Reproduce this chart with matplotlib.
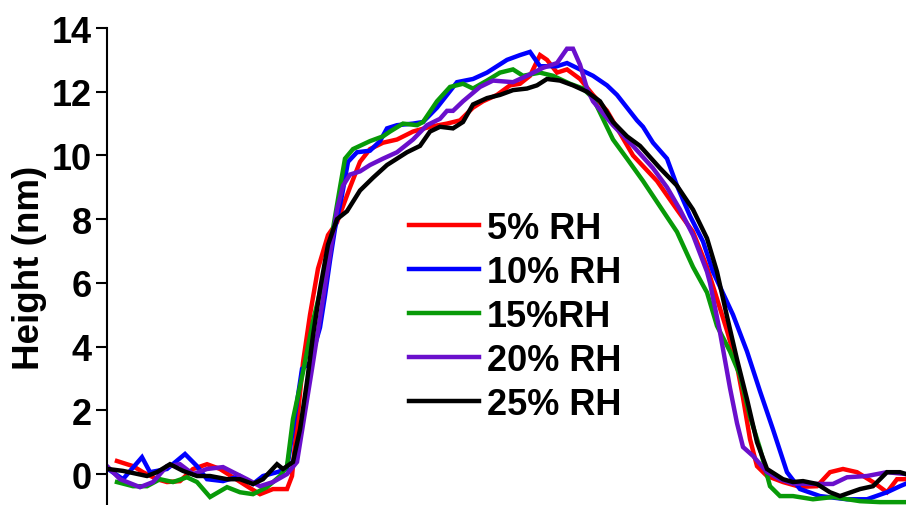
import matplotlib.pyplot as plt

plt.rcParams['font.family'] = ['Liberation Sans', 'DejaVu Sans']
plt.rcParams['font.weight'] = 'bold'

labels = ["5% RH", "10% RH", "15%RH", "20% RH", "25% RH"]
colors = ["#ff0000", "#0000ff", "#089a08", "#6a0fcc", "#000000"]

# lateral position (arbitrary units) and height (nm) for each humidity
x_5 = [10, 26, 36, 50, 60, 73, 86, 100, 113, 126, 140, 153, 166, 180, 185, 196, 203, 211, 221, 230, 243, 253,
       263, 276, 290, 306, 323, 340, 353, 366, 376, 390, 403, 413, 423, 433, 440, 450, 460, 473, 486, 500,
       526, 550, 570, 586, 600, 610, 620, 630, 636, 643, 650, 660, 676, 693, 710, 723, 736, 750, 766, 780,
       790, 799]
y_5 = [0.41, 0.25, 0.06, -0.16, -0.25, -0.22, 0.16, 0.31, 0.16, -0.1, -0.38, -0.63, -0.47, -0.47, -0.06,
       3.5, 5.0, 6.45, 7.5, 7.9, 9.0, 9.8, 10.2, 10.4, 10.5, 10.75, 10.9, 11.0, 11.1, 11.5, 11.7, 11.9,
       12.2, 12.25, 12.5, 13.15, 13.0, 12.6, 12.7, 12.4, 11.9, 11.4, 10.0, 9.2, 8.3, 7.6, 6.5, 5.5, 4.5,
       3.4, 2.4, 1.1, 0.25, -0.06, -0.25, -0.4, -0.38, 0.06, 0.16, 0.06, -0.25, -0.57, -0.16, -0.16]

x_10 = [1, 16, 35, 43, 60, 78, 90, 100, 116, 133, 146, 156, 170, 180, 195, 203, 213, 218, 223, 228, 235, 241,
        250, 263, 273, 280, 290, 306, 316, 330, 340, 350, 366, 380, 400, 413, 423, 433, 450, 460, 473, 486,
        500, 510, 520, 530, 536, 546, 560, 570, 583, 596, 606, 626, 640, 653, 666, 680, 693, 713, 740, 760,
        780, 793, 799]
y_10 = [0.16, -0.16, 0.53, 0.06, 0.16, 0.63, 0.25, -0.16, -0.22, -0.06, -0.31, -0.06, 0.06, 0.16, 3.3,
        3.5, 4.6, 5.6, 6.7, 7.7, 8.75, 9.8, 10.1, 10.15, 10.45, 10.85, 10.95, 11.0, 11.05, 11.5, 11.9,
        12.3, 12.4, 12.6, 13.0, 13.15, 13.25, 12.8, 12.8, 12.9, 12.7, 12.5, 12.2, 11.9, 11.5, 11.1, 10.9,
        10.4, 9.9, 9.05, 8.1, 7.3, 6.35, 5.0, 3.85, 2.6, 1.4, 0.06, -0.47, -0.69, -0.79, -0.79, -0.57,
        -0.38, -0.3]

x_15 = [10, 26, 40, 53, 66, 80, 90, 103, 120, 133, 146, 160, 173, 180, 186, 196, 206, 216, 226, 233, 238, 246,
        263, 276, 283, 296, 310, 316, 330, 343, 356, 366, 380, 393, 406, 416, 433, 446, 463, 476, 486, 496,
        506, 520, 536, 553, 570, 586, 600, 610, 623, 633, 643, 653, 663, 673, 686, 706, 726, 753, 773, 799]
y_15 = [-0.25, -0.38, -0.38, -0.16, -0.25, -0.1, -0.25, -0.72, -0.41, -0.57, -0.63, -0.41, -0.06, 0.25,
        1.73, 3.2, 4.8, 6.1, 7.7, 9.0, 9.9, 10.2, 10.45, 10.6, 10.75, 11.0, 10.95, 11.05, 11.7, 12.15,
        12.25, 12.1, 12.35, 12.6, 12.7, 12.5, 12.6, 12.5, 12.25, 12.1, 11.8, 11.15, 10.5, 9.9, 9.2, 8.4,
        7.6, 6.5, 5.7, 4.65, 3.85, 3.1, 1.8, 0.8, -0.38, -0.69, -0.69, -0.79, -0.72, -0.85, -0.88, -0.88]

x_20 = [1, 13, 33, 46, 60, 73, 86, 100, 116, 126, 140, 153, 166, 180, 190, 205, 220, 230, 236, 243, 253, 263,
        276, 290, 306, 320, 333, 340, 346, 356, 373, 386, 406, 420, 436, 450, 460, 466, 473, 480, 486, 506,
        526, 546, 560, 573, 586, 600, 603, 613, 623, 630, 636, 646, 660, 673, 686, 706, 726, 740, 760, 780,
        799]
y_20 = [0.22, -0.16, -0.41, -0.25, 0.25, 0.31, 0.0, 0.16, 0.22, 0.06, -0.16, -0.38, -0.25, 0.0, 0.38, 3.3,
        6.3, 8.3, 9.05, 9.4, 9.5, 9.7, 9.9, 10.1, 10.5, 10.95, 11.15, 11.4, 11.4, 11.7, 12.15, 12.35, 12.3,
        12.5, 12.75, 12.9, 13.35, 13.35, 12.85, 12.1, 11.7, 10.95, 10.3, 9.6, 9.0, 8.3, 7.5, 6.35, 6.0,
        4.45, 2.7, 1.6, 0.85, 0.57, 0.06, -0.16, -0.3, -0.31, -0.31, -0.1, -0.06, 0.06, 0.0]

x_25 = [1, 16, 40, 50, 63, 76, 90, 103, 120, 133, 146, 156, 170, 176, 186, 193, 200, 206, 213, 221, 230, 240,
        253, 266, 280, 300, 313, 323, 333, 346, 356, 366, 380, 393, 406, 420, 430, 440, 453, 466, 480, 493,
        506, 520, 533, 553, 570, 586, 600, 610, 620, 630, 640, 650, 660, 676, 686, 696, 710, 723, 733, 753,
        766, 780, 793, 799]
y_25 = [0.16, 0.1, -0.06, 0.06, 0.31, 0.1, -0.06, -0.06, -0.16, -0.16, -0.31, -0.16, 0.31, 0.16, 0.38,
        1.4, 2.9, 4.35, 5.8, 7.2, 8.0, 8.25, 8.9, 9.3, 9.7, 10.1, 10.3, 10.75, 10.9, 10.85, 11.05, 11.6,
        11.8, 11.9, 12.05, 12.1, 12.2, 12.4, 12.35, 12.2, 12.0, 11.7, 11.05, 10.6, 10.3, 9.6, 9.05, 8.3,
        7.4, 6.35, 4.95, 3.6, 2.35, 1.0, 0.16, -0.16, -0.25, -0.22, -0.31, -0.57, -0.69, -0.47, -0.38,
        0.06, 0.06, 0.0]

xs = [x_5, x_10, x_15, x_20, x_25]
ys = [y_5, y_10, y_15, y_20, y_25]

fig = plt.figure(figsize=(9.06, 5.06), dpi=100)
ax = fig.add_axes([107 / 906, 0, 1 - 107 / 906, 1 - 29 / 506])

for x, y, c, lab in zip(xs, ys, colors, labels):
    ax.plot(x, y, color=c, lw=3.2, label=lab, solid_joinstyle='miter')

ax.set_xlim(0, 799)
ax.set_ylim(-0.97, 14)
ax.set_yticks(range(0, 15, 2))
ax.set_xticks([])
for s in ['top', 'right', 'bottom']:
    ax.spines[s].set_visible(False)
ax.spines['left'].set_linewidth(1.5)
ax.tick_params(axis='y', direction='out', length=8, width=1.5, labelsize=26, pad=3)
for t in ax.get_yticklabels():
    t.set_fontweight('bold')
ax.set_ylabel("Height (nm)", fontsize=26.5, fontweight='bold', labelpad=3)

leg = ax.legend(loc='upper left', bbox_to_anchor=(409 / 906, 1 - 212 / 506), bbox_transform=fig.transFigure,
                frameon=False, fontsize=26, handlelength=1.95, handletextpad=0.2, labelspacing=0.25,
                borderpad=0, borderaxespad=0)
for line in leg.get_lines():
    line.set_linewidth(3.2)
for t in leg.get_texts():
    t.set_fontweight('bold')

fig.savefig("out.png", dpi=100)
